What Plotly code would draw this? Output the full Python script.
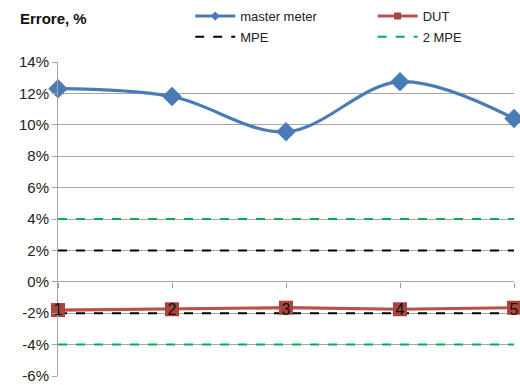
import plotly.graph_objects as go

categories = [1, 2, 3, 4, 5]
cat_labels = ["1", "2", "3", "4", "5"]
master_meter = [12.3, 11.8, 9.55, 12.75, 10.4]
dut = [-1.8, -1.75, -1.65, -1.75, -1.65]
mpe = [2, 2, 2, 2, 2]
mpe_neg = [-2, -2, -2, -2, -2]
mpe2 = [4, 4, 4, 4, 4]
mpe2_neg = [-4, -4, -4, -4, -4]
y_ticks = [-6, -4, -2, 0, 2, 4, 6, 8, 10, 12, 14]
y_ticktext = [f"{v}%" for v in y_ticks]

FONT = "Liberation Sans"
BLUE = "#4A7BB7"
RED_L = "#BA514C"
RED_M = "#A8453F"
GREEN = "#00B050"
fig = go.Figure()

fig.add_trace(go.Scatter(x=categories, y=mpe, mode="lines", name="MPE",
                         line=dict(color="black", width=2, dash="dash"),
                         legend="legend3", cliponaxis=False))
fig.add_trace(go.Scatter(x=categories, y=mpe_neg, mode="lines", name="MPE",
                         line=dict(color="black", width=2, dash="dash"),
                         showlegend=False, cliponaxis=False))
fig.add_trace(go.Scatter(x=categories, y=mpe2, mode="lines", name="2 MPE",
                         line=dict(color=GREEN, width=2, dash="dash"),
                         legend="legend4", cliponaxis=False))
fig.add_trace(go.Scatter(x=categories, y=mpe2_neg, mode="lines", name="2 MPE",
                         line=dict(color=GREEN, width=2, dash="dash"),
                         showlegend=False, cliponaxis=False))
fig.add_trace(go.Scatter(x=categories, y=master_meter, mode="lines+markers",
                         name="master meter",
                         line=dict(color=BLUE, width=3.2, shape="spline", smoothing=1),
                         marker=dict(symbol="diamond", size=15, color=BLUE),
                         showlegend=False, cliponaxis=False))
fig.add_trace(go.Scatter(x=categories, y=dut, mode="lines+markers", name="DUT",
                         line=dict(color=RED_L, width=3.2),
                         marker=dict(symbol="square", size=14, color=RED_M),
                         showlegend=False, cliponaxis=False))
# legend-only entries with small markers like the reference legend
fig.add_trace(go.Scatter(x=[None], y=[None], mode="lines+markers", name="master meter",
                         line=dict(color=BLUE, width=3),
                         marker=dict(symbol="diamond", size=7, color=BLUE),
                         legend="legend"))
fig.add_trace(go.Scatter(x=[None], y=[None], mode="lines+markers", name="DUT",
                         line=dict(color=RED_L, width=3),
                         marker=dict(symbol="square", size=7, color=RED_M),
                         legend="legend2"))

def leg(x, y):
    return dict(orientation="h", x=x, y=y, xanchor="left", yanchor="middle",
                font=dict(size=13, color="#222222"), bgcolor="rgba(0,0,0,0)",
                itemwidth=40)

fig.update_layout(
    width=520, height=385,
    margin=dict(l=58, r=6, t=62, b=9, autoexpand=False),
    plot_bgcolor="white", paper_bgcolor="white",
    font=dict(family=FONT, size=14, color="#222222"),
    showlegend=True,
    legend=leg(0.29, 1.146),
    legend2=leg(0.69, 1.146),
    legend3=leg(0.29, 1.08),
    legend4=leg(0.69, 1.08),
    xaxis=dict(range=[1, 5], tickvals=categories, ticktext=cat_labels,
               showgrid=False, zeroline=False, showline=False,
               ticks="outside", ticklen=5, tickcolor="#999999",
               anchor="free", position=0.3, ticklabelstandoff=8,
               tickfont=dict(size=16, color="#111111")),
    yaxis=dict(range=[-6, 14], tickvals=y_ticks, ticktext=y_ticktext,
               showgrid=True, gridcolor="#A6A6A6", gridwidth=1,
               zeroline=False, showline=True, linecolor="#A6A6A6", linewidth=1,
               ticks="outside", ticklen=5, tickcolor="#A6A6A6",
               tickfont=dict(size=15, color="#222222")),
    annotations=[dict(text="<b>Errore, %</b>", xref="paper", yref="paper",
                      x=-0.088, y=1.14, xanchor="left", yanchor="middle",
                      showarrow=False, font=dict(size=15, color="#111111"))],
)

fig.write_html("out.html", config={"displayModeBar": False},
               post_script="document.body.style.margin='0';document.body.style.overflow='hidden';")
